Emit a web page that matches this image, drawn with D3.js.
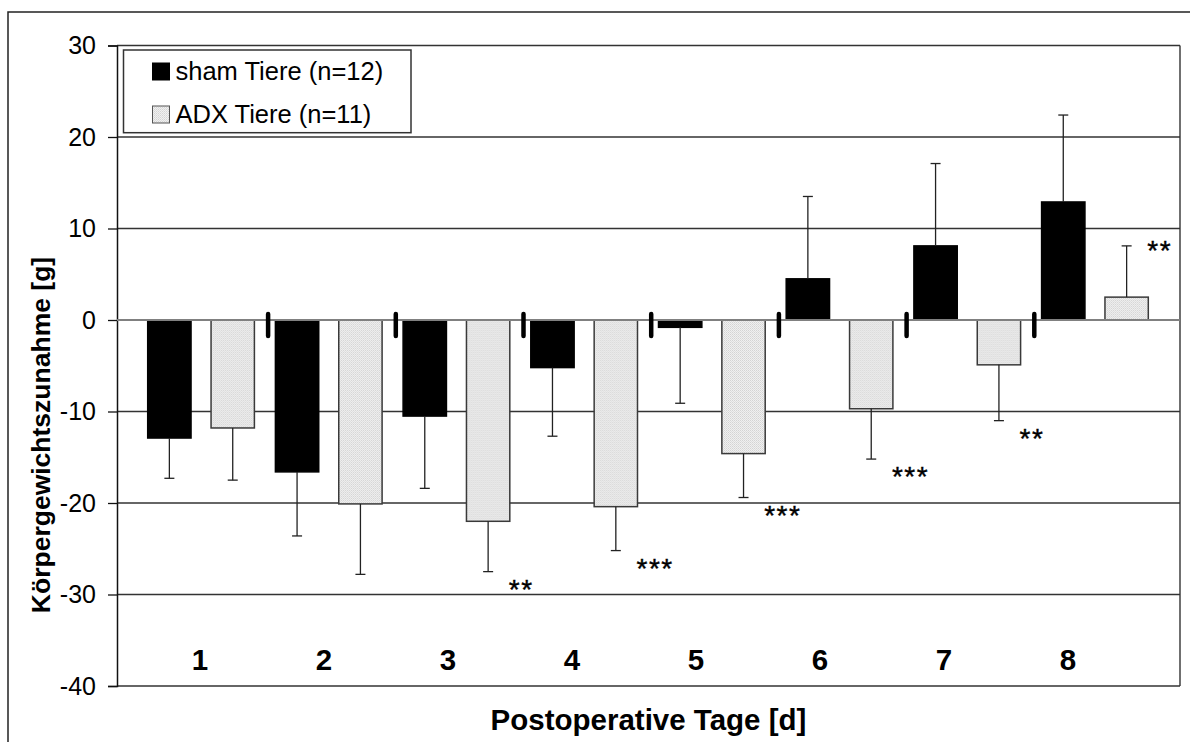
<!DOCTYPE html>
<html>
<head>
<meta charset="utf-8">
<script src="https://cdn.jsdelivr.net/npm/d3@7"></script>
<style>
  html, body { margin: 0; padding: 0; background: #fff; }
  svg { display: block; font-family: "Liberation Sans", Arial, sans-serif; }
</style>
</head>
<body>
<svg id="chart" width="1190" height="742"></svg>
<script>
// Postoperative Körpergewichtszunahme, Mittelwert ± SD
const days = ['1', '2', '3', '4', '5', '6', '7', '8'];
const shamMean = [-12.9, -16.6, -10.5, -5.2, -0.8, 4.5, 8.1, 12.9];
const shamSD   = [4.4, 7.0, 7.9, 7.5, 8.3, 9.0, 9.0, 9.5];
const adxMean  = [-11.8, -20.1, -22.0, -20.4, -14.6, -9.7, -4.9, 2.5];
const adxSD    = [5.7, 7.7, 5.5, 4.8, 4.8, 5.5, 6.1, 5.6];
const significance = ['', '', '**', '***', '***', '***', '**', '**'];
const seriesKeys = ['sham', 'adx'];
const seriesNames = ['sham Tiere (n=12)', 'ADX Tiere (n=11)'];
const yTicks = [-40, -30, -20, -10, 0, 10, 20, 30];
const yTitle = 'Körpergewichtszunahme [g]';
const xTitle = 'Postoperative Tage [d]';

const svg = d3.select('#chart');

// plot area
const plotLeft = 117, plotRight = 1180, plotTop = 45.5, plotBottom = 686;

const y = d3.scaleLinear().domain([-40, 30]).range([plotBottom, plotTop]);
const x0 = d3.scaleBand().domain(days).range([137.2, 1158.8]).paddingInner(0).paddingOuter(0);
const x1 = d3.scaleBand().domain(seriesKeys).range([10.5, 117.2]).paddingInner(0.316).paddingOuter(0);
const xLabel = d3.scalePoint().domain(days).range([200, 1068]);

const rows = days.map((d, i) => ({
  day: d,
  sig: significance[i],
  values: [
    { key: 'sham', mean: shamMean[i], sd: shamSD[i] },
    { key: 'adx', mean: adxMean[i], sd: adxSD[i] }
  ]
}));

// stippled light-grey fill
const defs = svg.append('defs');
const pat = defs.append('pattern').attr('id', 'stipple')
  .attr('patternUnits', 'userSpaceOnUse').attr('width', 2).attr('height', 2);
pat.append('rect').attr('width', 2).attr('height', 2).attr('fill', '#f0f0f0');
pat.append('rect').attr('width', 1).attr('height', 1).attr('fill', '#d4d4d4');
pat.append('rect').attr('x', 1).attr('y', 1).attr('width', 1).attr('height', 1).attr('fill', '#dedede');

// outer chart frame
svg.append('path').attr('d', 'M8,760V12H1200')
  .attr('fill', 'none').attr('stroke', '#222').attr('stroke-width', 1.5);

// horizontal gridlines
svg.append('g').selectAll('line')
  .data(yTicks.filter(t => t !== 0))
  .join('line')
  .attr('x1', plotLeft).attr('x2', plotRight)
  .attr('y1', d => y(d)).attr('y2', d => y(d))
  .attr('stroke', '#333').attr('stroke-width', 1.4);

// right edge of plot area
svg.append('line').attr('x1', plotRight).attr('x2', plotRight).attr('y1', plotTop).attr('y2', plotBottom)
  .attr('stroke', '#333').attr('stroke-width', 1.4);

// y axis
const yAxis = d3.axisLeft(y).tickValues(yTicks).tickSize(9).tickPadding(12).tickFormat(d => String(d));
const gy = svg.append('g').attr('transform', `translate(${plotLeft},0)`).call(yAxis);
gy.select('.domain').attr('stroke', '#111').attr('stroke-width', 1.5);
gy.selectAll('.tick line').attr('stroke', '#111').attr('stroke-width', 1.3);
gy.selectAll('.tick text').attr('font-size', 25).attr('fill', '#000')
  .attr('font-family', '"Liberation Sans", Arial, sans-serif');

// bars
const groups = svg.append('g').selectAll('g.day')
  .data(rows).join('g').attr('class', 'day')
  .attr('transform', d => `translate(${x0(d.day)},0)`);

groups.selectAll('rect.bar')
  .data(d => d.values).join('rect').attr('class', 'bar')
  .attr('x', d => x1(d.key))
  .attr('width', x1.bandwidth())
  .attr('y', d => y(Math.max(0, d.mean)))
  .attr('height', d => Math.abs(y(d.mean) - y(0)))
  .attr('fill', d => d.key === 'sham' ? '#000' : 'url(#stipple)')
  .attr('stroke', d => d.key === 'sham' ? '#000' : '#3a3a3a')
  .attr('stroke-width', 1.5);

// one-sided error bars (away from zero)
const errEnd = d => d.mean >= 0 ? d.mean + d.sd : d.mean - d.sd;
groups.selectAll('line.err')
  .data(d => d.values).join('line').attr('class', 'err')
  .attr('x1', d => x1(d.key) + x1.bandwidth() / 2)
  .attr('x2', d => x1(d.key) + x1.bandwidth() / 2)
  .attr('y1', d => y(d.mean))
  .attr('y2', d => y(errEnd(d)))
  .attr('stroke', '#222').attr('stroke-width', 1.3);
groups.selectAll('line.cap')
  .data(d => d.values).join('line').attr('class', 'cap')
  .attr('x1', d => x1(d.key) + x1.bandwidth() / 2 - 5)
  .attr('x2', d => x1(d.key) + x1.bandwidth() / 2 + 5)
  .attr('y1', d => y(errEnd(d)))
  .attr('y2', d => y(errEnd(d)))
  .attr('stroke', '#222').attr('stroke-width', 1.3);

// zero line (category axis)
svg.append('line').attr('x1', plotLeft).attr('x2', plotRight).attr('y1', y(0)).attr('y2', y(0))
  .attr('stroke', '#808080').attr('stroke-width', 2);

// separators between days on the zero line
svg.append('g').selectAll('line')
  .data(days.slice(1)).join('line')
  .attr('x1', d => x0(d) + 3.2).attr('x2', d => x0(d) + 3.2)
  .attr('y1', y(0) - 6).attr('y2', y(0) + 16)
  .attr('stroke', '#000').attr('stroke-width', 4.5).attr('stroke-linecap', 'round');

// significance stars next to the ADX error bars
groups.filter(d => d.sig)
  .append('text')
  .attr('x', x1('adx') + x1.bandwidth() - 1)
  .attr('y', d => {
    const a = d.values[1];
    const cy = y(errEnd(a)) + (a.mean < 0 ? 11 : -2);
    return cy + 16;
  })
  .attr('font-size', 28).attr('letter-spacing', 1.5).attr('fill', '#000')
  .attr('stroke', '#000').attr('stroke-width', 0.4)
  .text(d => d.sig);

// day labels inside the plot
svg.append('g').selectAll('text')
  .data(days).join('text')
  .attr('x', d => xLabel(d)).attr('y', 670)
  .attr('text-anchor', 'middle').attr('font-size', 29.5).attr('font-weight', 'bold')
  .text(d => d);

// axis titles
svg.append('text')
  .attr('x', (plotLeft + plotRight) / 2).attr('y', 730)
  .attr('text-anchor', 'middle').attr('font-size', 29.5).attr('font-weight', 'bold')
  .text(xTitle);
svg.append('text')
  .attr('transform', 'translate(50,435) rotate(-90)')
  .attr('text-anchor', 'middle').attr('font-size', 26.5).attr('font-weight', 'bold')
  .text(yTitle);

// legend
const lg = svg.append('g');
lg.append('rect').attr('x', 123.5).attr('y', 50).attr('width', 287.5).attr('height', 82.7)
  .attr('fill', '#fff').attr('stroke', '#333').attr('stroke-width', 1.5);
const li = lg.selectAll('g.item').data(seriesKeys).join('g').attr('class', 'item')
  .attr('transform', (d, i) => `translate(0,${i * 43})`);
li.append('rect').attr('x', 152.5).attr('y', 63).attr('width', 17).attr('height', 17)
  .attr('fill', d => d === 'sham' ? '#000' : 'url(#stipple)')
  .attr('stroke', d => d === 'sham' ? '#000' : '#555').attr('stroke-width', 1);
li.append('text').attr('x', 175.5).attr('y', 80)
  .attr('font-size', 25.5).attr('fill', '#000')
  .text((d, i) => seriesNames[i]);
</script>
</body>
</html>
